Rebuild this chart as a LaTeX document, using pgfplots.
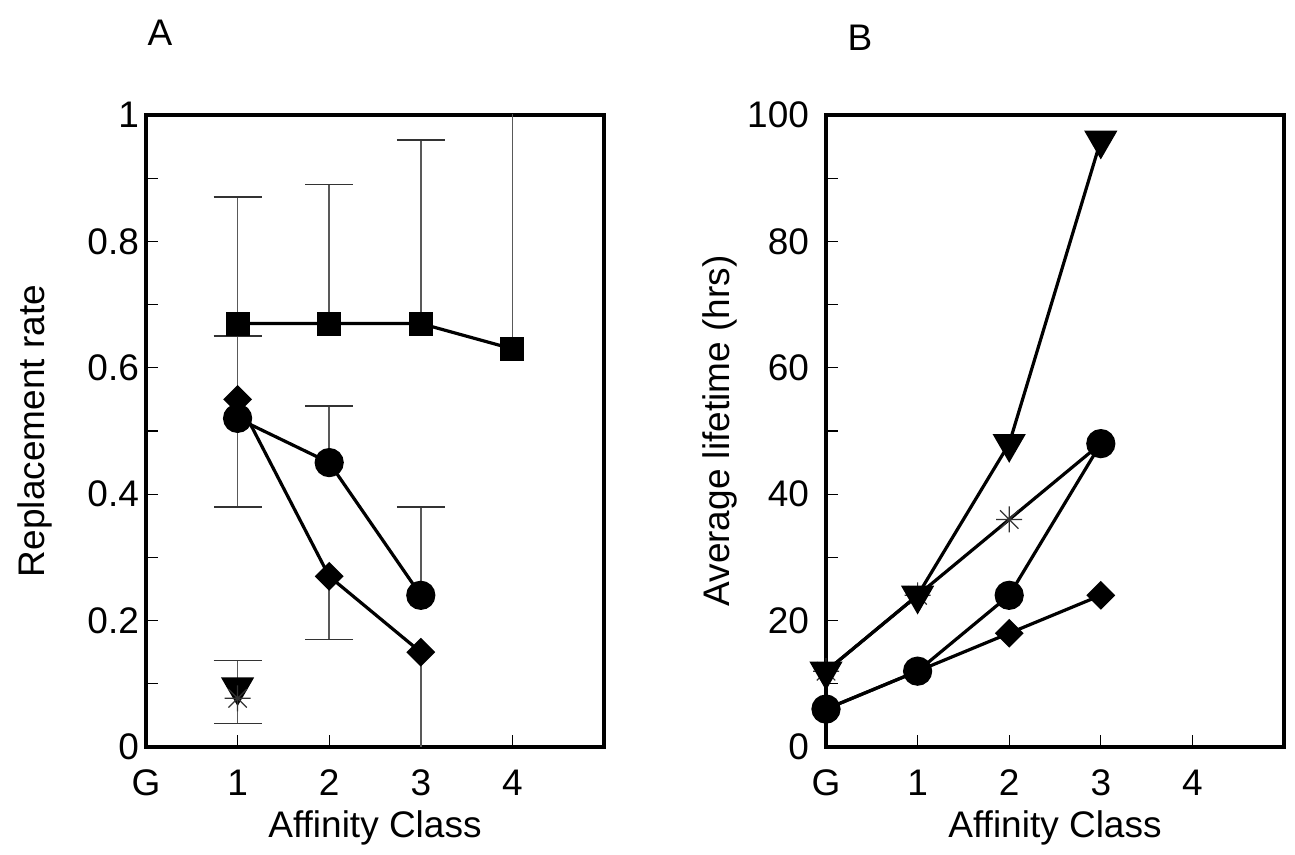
\documentclass[border=0pt]{standalone}
\usepackage{fontspec}
\setmainfont{Liberation Sans}
\usepackage{pgfplots}
\pgfplotsset{compat=1.18}

% eight-spoke star (plus and cross together)
\pgfdeclareplotmark{burst}{%
  \pgfpathmoveto{\pgfqpoint{-\pgfplotmarksize}{0pt}}%
  \pgfpathlineto{\pgfqpoint{\pgfplotmarksize}{0pt}}%
  \pgfpathmoveto{\pgfqpoint{0pt}{-\pgfplotmarksize}}%
  \pgfpathlineto{\pgfqpoint{0pt}{\pgfplotmarksize}}%
  \pgfpathmoveto{\pgfqpoint{-.7071\pgfplotmarksize}{-.7071\pgfplotmarksize}}%
  \pgfpathlineto{\pgfqpoint{.7071\pgfplotmarksize}{.7071\pgfplotmarksize}}%
  \pgfpathmoveto{\pgfqpoint{-.7071\pgfplotmarksize}{.7071\pgfplotmarksize}}%
  \pgfpathlineto{\pgfqpoint{.7071\pgfplotmarksize}{-.7071\pgfplotmarksize}}%
  \pgfusepathqstroke}

\newcommand{\bigfont}{\fontsize{18.5}{22}\selectfont}

\pgfplotsset{
  panel/.style={
    scale only axis,
    width=229pt, height=316pt,
    xmin=0, xmax=5,
    xtick={0,1,2,3,4}, xticklabels={G,1,2,3,4},
    tick align=inside,
    xtick pos=left, ytick pos=left,
    major tick length=6pt, minor tick length=6pt,
    axis line style={line width=1.6pt},
    tick style={line width=0.6pt, black},
    tick label style={font=\bigfont},
    xticklabel style={yshift=-8pt},
    /pgf/number format/assume math mode=true,
    xlabel={Affinity Class},
    every axis x label/.style={at={(axis description cs:0.5,-0.128)}, anchor=center, font=\bigfont},
    clip mode=individual,
  },
  ln/.style={black, line width=1.6pt, mark options={solid, fill=black}},
  sq/.style={ln, mark=square*, mark size=5.2pt},
  ci/.style={ln, mark=*, mark size=6.5pt},
  di/.style={ln, mark=square*, mark size=4.3pt, mark options={rotate=45, fill=black}},
  tr/.style={ln, mark=triangle*, mark size=8pt, mark options={rotate=180, fill=black}},
  st/.style={black, line width=1.6pt, mark=burst, mark size=6.5pt, mark options={line width=0.6pt, draw=black!80}},
  eb/.style={draw=none, mark=none, forget plot,
    error bars/.cd, y dir=#1, y explicit,
    error bar style={draw=black!65, line width=0.8pt},
    error mark options={rotate=90, mark size=12pt, line width=0.8pt, draw=black!80}},
}

\begin{document}
\begin{tikzpicture}
\useasboundingbox (-73pt,-54pt) rectangle (574.5pt,373.5pt);

% ---------------- panel A
\begin{axis}[panel,
  ymin=0, ymax=1,
  ytick={0,0.2,0.4,0.6,0.8,1},
  minor ytick={0.1,0.3,0.5,0.7,0.9},
  ylabel={Replacement rate},
  every axis y label/.style={at={(axis description cs:-0.243,0.5)}, rotate=90, anchor=center, font=\bigfont},
]
% error bars
\addplot[eb=plus] coordinates {
  (1,0.67) +- (0,0.20)
  (2,0.67) +- (0,0.22)
  (3,0.67) +- (0,0.29)
  (4,0.63) +- (0,0.45)
  (1,0.55) +- (0,0.10)
  (2,0.45) +- (0,0.09)
  (3,0.24) +- (0,0.14)
};
\addplot[eb=minus] coordinates {
  (1,0.52) +- (0,0.14)
  (2,0.27) +- (0,0.10)
  (3,0.15) +- (0,0.20)
};
\addplot[eb=both] coordinates {
  (1,0.087) +- (0,0.05)
};

\addplot[sq] coordinates {(1,0.67) (2,0.67) (3,0.67) (4,0.63)};
\addplot[di] coordinates {(1,0.55) (2,0.27) (3,0.15)};
\addplot[ci] coordinates {(1,0.52) (2,0.45) (3,0.24)};
\addplot[tr, only marks] coordinates {(1,0.095)};
\addplot[st, only marks] coordinates {(1,0.077)};
\end{axis}
\node[font=\bigfont] at (7pt,357pt) {A};

% ---------------- panel B
\begin{axis}[panel, at={(340pt,0pt)},
  ymin=0, ymax=100,
  ytick={0,20,40,60,80,100},
  minor ytick={10,30,50,70,90},
  yticklabel style={xshift=-5pt},
  ylabel={Average lifetime (hrs)},
  every axis y label/.style={at={(axis description cs:-0.231,0.5)}, rotate=90, anchor=center, font=\bigfont},
]
\addplot[st] coordinates {(0,12) (1,24) (2,36) (3,48)};
\addplot[tr] coordinates {(0,12) (1,24) (2,48) (3,96)};
\addplot[di] coordinates {(0,6) (1,12) (2,18) (3,24)};
\addplot[ci] coordinates {(0,6) (1,12) (2,24) (3,48)};
\end{axis}
\node[font=\bigfont] at (357pt,354.5pt) {B};
\end{tikzpicture}
\end{document}
